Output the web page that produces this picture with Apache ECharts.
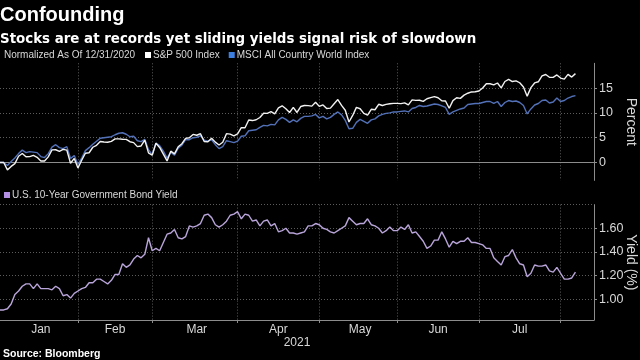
<!DOCTYPE html>
<html>
<head>
<meta charset="utf-8">
<script src="https://cdn.jsdelivr.net/npm/echarts@6/dist/echarts.min.js"></script>
<style>
html,body{margin:0;padding:0;background:#000;}
#c{width:640px;height:360px;}
</style>
</head>
<body>
<div id="c"></div>
<script>
// ---- categories: every weekday from 2020-12-31 to 2021-08-12 ----
const startDate = '2020-12-31';
const endDate = '2021-08-12';
const monthNames = ['Jan', 'Feb', 'Mar', 'Apr', 'May', 'Jun', 'Jul'];
const yearLabel = '2021';

// ---- series values (percent change since 12/31/2020, one per weekday, Dec 31 .. Aug 5) ----
const spx = [
  0, 0,
  -1.48, -0.78, -0.21, 1.27, 1.83, 1.16, 1.20, 1.43, 1.05, 0.32, 0.32, 1.14, 2.55, 2.58, 2.27, 2.64, 2.49, -0.14, 0.83, -1.11,
  0.47, 1.87, 1.97, 3.08, 3.48, 4.25, 4.13, 4.10, 4.27, 4.76, 4.76, 4.70, 4.67, 4.20, 4.01, 3.21, 3.34, 4.51, 1.95, 1.47,
  3.88, 3.04, 1.70, 0.33, 2.29, 1.74, 3.18, 3.80, 4.88, 4.99, 5.67, 5.50, 5.81, 4.25, 4.18, 4.91, 4.11, 3.54, 4.09, 5.82, 5.73, 5.39, 5.77,
  7.02, 7.02, 8.57, 8.46, 8.62, 9.08, 9.92, 9.90, 10.26, 9.81, 11.03, 11.43, 10.84, 10.09, 11.11, 10.09, 11.29, 11.49, 11.47, 11.37, 12.13, 11.32,
  11.62, 10.88, 10.96, 11.86, 12.69, 11.51, 10.54, 8.17, 9.49, 11.12, 10.84, 9.90, 9.57, 10.73, 10.64, 11.74, 11.50, 11.71, 11.84, 11.93, 11.93,
  11.87, 12.03, 11.63, 12.62, 12.53, 12.55, 12.34, 12.86, 13.08, 13.29, 13.06, 12.45, 12.40, 10.93, 12.48, 13.06, 12.93, 13.59, 13.97, 14.23, 14.26, 14.41,
  15.01, 15.87, 15.87, 15.64, 16.03, 15.04, 16.33, 16.74, 16.32, 16.46, 16.08, 15.21, 13.38, 15.10, 16.04, 16.28, 17.46, 17.74, 17.18, 17.16, 17.65, 17.02,
  16.80, 17.76, 17.22, 17.92
];
const msci = [
  0, 0,
  -0.6, 0.2, 0.9, 1.8, 2.5, 2.0, 2.2, 2.1, 2.0, 1.2, 1.0, 1.8, 3.1, 3.6, 3.0, 2.8, 3.2, 0.8, 1.4, -0.4,
  0.9, 2.4, 3.0, 3.7, 4.3, 4.9, 5.0, 5.1, 5.2, 5.6, 5.9, 6.0, 5.7, 5.2, 5.3, 4.4, 4.2, 4.7, 2.6, 1.6,
  3.9, 3.4, 2.3, 0.9, 2.1, 1.5, 2.9, 3.5, 4.6, 4.6, 5.0, 5.1, 5.4, 4.5, 4.3, 4.6, 3.6, 2.8, 3.2, 4.4, 4.2, 4.0, 4.3,
  5.3, 5.4, 6.4, 6.5, 6.6, 7.1, 7.5, 7.4, 7.7, 7.6, 8.6, 9.1, 8.7, 8.1, 8.6, 8.2, 8.9, 9.3, 9.3, 9.4, 9.7, 9.0,
  9.3, 8.8, 9.1, 9.7, 10.2, 9.6, 8.5, 6.8, 6.9, 8.1, 8.7, 8.3, 7.9, 8.6, 8.8, 9.4, 9.7, 9.9, 10.0, 10.2, 10.2,
  10.3, 10.4, 10.2, 10.9, 11.1, 11.5, 11.3, 11.4, 11.6, 11.8, 11.7, 11.4, 11.1, 9.7, 10.2, 10.5, 10.8, 11.0, 11.7, 11.8, 11.9, 11.9,
  12.1, 12.3, 12.3, 11.9, 12.3, 11.3, 12.1, 12.5, 12.3, 12.4, 12.1, 11.5, 9.8, 10.8, 11.6, 11.9, 12.5, 12.6, 12.0, 12.2, 13.0, 12.3,
  12.5, 13.0, 13.3, 13.5
];
const yld = [
  0.91, 0.91,
  0.92, 0.96, 1.04, 1.07, 1.11, 1.13, 1.13, 1.09, 1.13, 1.09, 1.09, 1.09, 1.08, 1.11, 1.09, 1.03, 1.04, 1.01, 1.05, 1.07,
  1.09, 1.10, 1.14, 1.14, 1.17, 1.17, 1.15, 1.13, 1.16, 1.21, 1.21, 1.30, 1.27, 1.29, 1.34, 1.37, 1.35, 1.38, 1.52, 1.41,
  1.43, 1.41, 1.48, 1.55, 1.56, 1.59, 1.52, 1.51, 1.53, 1.62, 1.61, 1.62, 1.64, 1.71, 1.72, 1.69, 1.63, 1.61, 1.63, 1.66, 1.71, 1.72, 1.74,
  1.68, 1.72, 1.71, 1.66, 1.67, 1.62, 1.66, 1.67, 1.62, 1.64, 1.57, 1.58, 1.60, 1.56, 1.56, 1.55, 1.56, 1.57, 1.62, 1.62, 1.64, 1.63,
  1.60, 1.59, 1.57, 1.56, 1.58, 1.60, 1.62, 1.69, 1.66, 1.63, 1.64, 1.64, 1.68, 1.63, 1.62, 1.60, 1.56, 1.58, 1.61, 1.58, 1.58,
  1.61, 1.59, 1.63, 1.56, 1.57, 1.53, 1.49, 1.43, 1.45, 1.50, 1.50, 1.57, 1.51, 1.44, 1.49, 1.47, 1.49, 1.49, 1.52, 1.48, 1.48, 1.47,
  1.46, 1.43, 1.43, 1.35, 1.32, 1.29, 1.36, 1.37, 1.42, 1.35, 1.30, 1.29, 1.19, 1.22, 1.29, 1.28, 1.28, 1.29, 1.24, 1.23, 1.27, 1.22,
  1.17, 1.17, 1.18, 1.23
];

// ---- build weekday categories ----
function weekdays(a, b) {
  const out = [];
  const d = new Date(a + 'T00:00:00Z');
  const e = new Date(b + 'T00:00:00Z');
  while (d <= e) {
    const wd = d.getUTCDay();
    if (wd !== 0 && wd !== 6) out.push(d.toISOString().slice(0, 10));
    d.setUTCDate(d.getUTCDate() + 1);
  }
  return out;
}
const categories = weekdays(startDate, endDate);

// month-end (last weekday) indices -> grid lines; label at middle of each month
const monthEnds = [];
for (let i = 1; i < categories.length - 1; i++) {
  if (categories[i].slice(5, 7) !== categories[i + 1].slice(5, 7)) monthEnds.push(i);
}
const monthEndSet = new Set(monthEnds);
const labelMap = {};
let prev = 0;
monthEnds.forEach((e, m) => {
  if (m < monthNames.length) labelMap[Math.round((prev + e) / 2)] = monthNames[m];
  prev = e;
});

const FONT = '"Liberation Sans", Arial, sans-serif';
const WIDE = '"DejaVu Sans", Verdana, sans-serif';
const GRID = '#5c5c5c';
const AXIS = '#8c8c8c';
const TXT = '#d8d8d8';

const chart = echarts.init(document.getElementById('c'), null, { renderer: 'canvas' });
chart.setOption({
  backgroundColor: '#000',
  animation: false,
  textStyle: { fontFamily: FONT },
  grid: [
    { left: 0, right: 46, top: 63.3, height: 117.1, outerBoundsMode: 'none', containLabel: false },
    { left: 0, right: 46, top: 204.6, height: 115.4, outerBoundsMode: 'none', containLabel: false }
  ],
  legend: [
    {
      data: ['S&P 500 Index', 'MSCI All Country World Index'],
      left: 145, top: 50, padding: 0,
      icon: 'rect', itemWidth: 6, itemHeight: 6, itemGap: 9,
      textStyle: { color: TXT, fontSize: 10, fontFamily: FONT, padding: [0, 0, 0, -3] }
    },
    {
      data: ['U.S. 10-Year Government Bond Yield'],
      left: 4, top: 190, padding: 0,
      icon: 'rect', itemWidth: 6, itemHeight: 6,
      textStyle: { color: TXT, fontSize: 10, fontFamily: FONT, padding: [0, 0, 0, -3] }
    }
  ],
  xAxis: [
    {
      type: 'category', gridIndex: 0, data: categories, boundaryGap: false,
      axisLine: { lineStyle: { color: AXIS } },
      axisTick: { show: false }, axisLabel: { show: false },
      splitLine: { show: true, interval: (i) => monthEndSet.has(i), lineStyle: { color: GRID, type: [1, 2] } }
    },
    {
      type: 'category', gridIndex: 1, data: categories, boundaryGap: false,
      axisLine: { lineStyle: { color: AXIS } },
      axisTick: { show: true, interval: (i) => monthEndSet.has(i), length: 3, lineStyle: { color: AXIS } },
      axisLabel: {
        interval: (i) => labelMap[i] !== undefined,
        formatter: (v, i) => labelMap[i] || '',
        color: TXT, fontSize: 12, margin: 4, fontFamily: FONT
      },
      splitLine: { show: true, interval: (i) => monthEndSet.has(i), lineStyle: { color: GRID, type: [1, 2] } },
      name: yearLabel, nameLocation: 'middle', nameGap: 16,
      nameTextStyle: { color: TXT, fontSize: 12, fontFamily: FONT }
    }
  ],
  yAxis: [
    {
      type: 'value', gridIndex: 0, position: 'right', min: -3.6, max: 20, splitNumber: 5,
      axisLine: { show: true, lineStyle: { color: AXIS } },
      axisTick: { show: true, length: 3, lineStyle: { color: AXIS } },
      axisLabel: { color: TXT, fontSize: 12.5, margin: 5, showMinLabel: false, showMaxLabel: false, fontFamily: FONT },
      splitLine: { show: true, lineStyle: { color: ['rgba(0,0,0,0)', GRID, GRID, GRID, GRID, 'rgba(0,0,0,0)'], type: [1, 2] } },
      name: 'Percent', nameLocation: 'middle', nameRotate: -90, nameGap: 30, nameMoveOverlap: false,
      nameTextStyle: { color: TXT, fontSize: 14, fontFamily: FONT }
    },
    {
      type: 'value', gridIndex: 1, position: 'right', min: 0.825, max: 1.8, splitNumber: 5,
      axisLine: { show: true, lineStyle: { color: AXIS } },
      axisTick: { show: true, length: 3, lineStyle: { color: AXIS } },
      axisLabel: { color: TXT, fontSize: 12.5, margin: 5, showMinLabel: false, showMaxLabel: false,
        formatter: (v) => v.toFixed(2), fontFamily: FONT },
      splitLine: { show: true, lineStyle: { color: ['rgba(0,0,0,0)', GRID, GRID, GRID, GRID, GRID], type: [1, 2] } },
      name: 'Yield (%)', nameLocation: 'middle', nameRotate: -90, nameGap: 30, nameMoveOverlap: false,
      nameTextStyle: { color: TXT, fontSize: 14, fontFamily: FONT }
    }
  ],
  series: [
    {
      name: 'S&P 500 Index', type: 'line', xAxisIndex: 0, yAxisIndex: 0, data: spx,
      showSymbol: false, symbol: 'none', z: 3,
      lineStyle: { color: '#f2f2f2', width: 1.4 }, itemStyle: { color: '#ffffff' }
    },
    {
      name: 'MSCI All Country World Index', type: 'line', xAxisIndex: 0, yAxisIndex: 0, data: msci,
      showSymbol: false, symbol: 'none', z: 2,
      lineStyle: { color: '#5271b8', width: 1.4 }, itemStyle: { color: '#3d7fe0' }
    },
    {
      name: 'U.S. 10-Year Government Bond Yield', type: 'line', xAxisIndex: 1, yAxisIndex: 1, data: yld,
      showSymbol: false, symbol: 'none',
      lineStyle: { color: '#b9a5da', width: 1.4 }, itemStyle: { color: '#b38fe3' }
    }
  ],
  graphic: [
    { type: 'text', left: 0, top: 5, style: { text: 'Confounding', fill: '#fff', font: 'bold 20px ' + FONT } },
    { type: 'text', left: 0, top: 33, style: { text: 'Stocks are at records yet sliding yields signal risk of slowdown', fill: '#fff', font: 'bold 13.4px ' + WIDE } },
    { type: 'text', left: 4, top: 50.5, style: { text: 'Normalized As Of 12/31/2020', fill: TXT, font: '10px ' + FONT } },
    { type: 'text', left: 3, top: 348.5, style: { text: 'Source: Bloomberg', fill: '#fff', font: 'bold 10.5px ' + FONT } }
  ]
});
</script>
</body>
</html>
